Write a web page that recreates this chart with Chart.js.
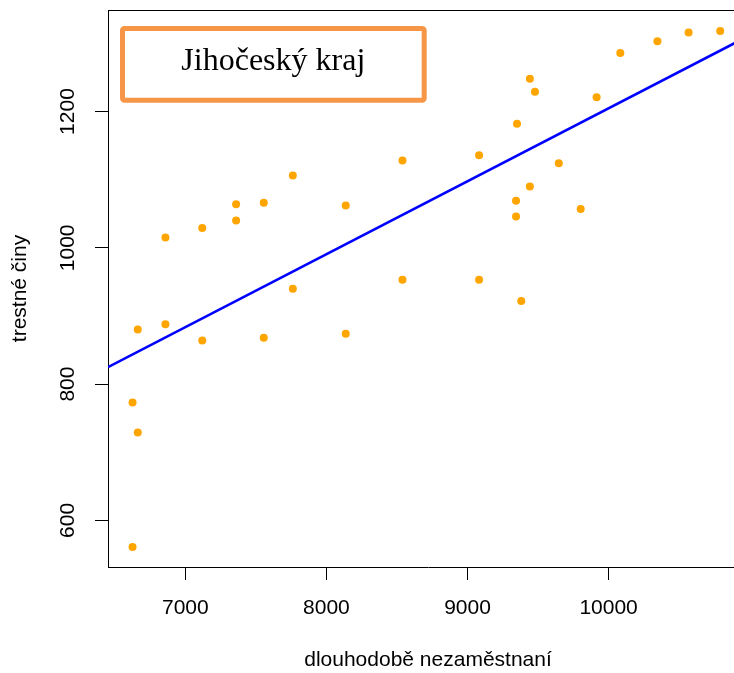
<!DOCTYPE html>
<html>
<head>
<meta charset="utf-8">
<script src="https://cdn.jsdelivr.net/npm/chart.js@4"></script>
<style>
  html, body { margin: 0; padding: 0; background: #fff; overflow: hidden; }
  #wrap { width: 734px; height: 673px; overflow: hidden; }
</style>
</head>
<body>
<div id="wrap"><canvas id="chart" width="752" height="673"></canvas></div>
<script>
// dlouhodobě nezaměstnaní vs trestné činy, Jihočeský kraj
const unemployed = [6626, 6663, 6626, 6663, 6859, 6859, 7120, 7120, 7360, 7360,
  7556, 7556, 7762, 7762, 8137, 8137, 8539, 8539, 9082, 9082,
  9351, 9344, 9344, 9381, 9442, 9478, 9442, 9647, 9802, 9915,
  10083, 10346, 10567, 10791];
const crimes = [773, 729, 561, 880, 1015, 888, 1029, 864, 1064, 1040,
  1066, 868, 1106, 940, 1062, 874, 1128, 953, 1136, 953,
  1182, 1069, 1046, 922, 1248, 1229, 1090, 1124, 1057, 1221,
  1286, 1303, 1316, 1318];

// regression line end points
const lineX = [6452, 10988];
const lineY = [825, 1310.5];

const xTicks = [7000, 8000, 9000, 10000];
const yTicks = [600, 800, 1000, 1200];
const xRange = [6452, 10988];
const yRange = [531.6, 1349];

const boxLabel = 'Jihočeský kraj';

const points = unemployed.map((x, i) => ({ x, y: crimes[i] }));
const regLine = lineX.map((x, i) => ({ x, y: lineY[i] }));

// top border + label box
const extras = {
  id: 'extras',
  afterDraw(chart) {
    const { ctx, chartArea } = chart;
    ctx.save();
    ctx.strokeStyle = '#000';
    ctx.lineWidth = 1;
    ctx.beginPath();
    ctx.moveTo(chartArea.left, chartArea.top + 0.5);
    ctx.lineTo(chartArea.right, chartArea.top + 0.5);
    ctx.stroke();

    const bx = chartArea.left + 14.5, by = chartArea.top + 18.5;
    const bw = 301.7, bh = 71.7;
    ctx.strokeStyle = '#F79646';
    ctx.lineWidth = 5;
    ctx.lineJoin = 'round';
    ctx.beginPath();
    ctx.roundRect(bx, by, bw, bh, 2);
    ctx.stroke();

    ctx.fillStyle = '#000';
    ctx.font = '32px "Liberation Serif", "Times New Roman", serif';
    ctx.textAlign = 'center';
    ctx.textBaseline = 'alphabetic';
    ctx.fillText(boxLabel, bx + bw / 2, chartArea.top + 59.5);
    ctx.restore();
  }
};

const font = { family: '"Liberation Sans", Arial, sans-serif', size: 21 };

new Chart(document.getElementById('chart'), {
  type: 'scatter',
  data: {
    datasets: [
      {
        data: points,
        backgroundColor: '#FFA500',
        borderColor: '#FFA500',
        pointRadius: 4,
        pointBorderWidth: 0
      },
      {
        type: 'line',
        data: regLine,
        borderColor: '#0000FF',
        borderWidth: 2.5,
        pointRadius: 0,
        fill: false
      }
    ]
  },
  options: {
    responsive: false,
    animation: false,
    layout: { padding: { top: 10, right: 2, left: 0, bottom: 0 } },
    plugins: { legend: { display: false }, tooltip: { enabled: false } },
    scales: {
      x: {
        type: 'linear',
        min: xRange[0],
        max: xRange[1],
        afterBuildTicks: s => { s.ticks = xTicks.map(v => ({ value: v })); },
        afterFit: s => { s.height = 106; s.paddingLeft = 0; s.paddingRight = 0; },
        grid: { drawOnChartArea: false, color: '#000', tickLength: 13, tickWidth: 1 },
        border: { display: true, color: '#000', width: 1 },
        ticks: { color: '#000', font, padding: 16, maxRotation: 0, callback: v => String(v) },
        title: { display: true, text: 'dlouhodobě nezaměstnaní', color: '#000', font, padding: { top: 0, bottom: 0 } }
      },
      y: {
        type: 'linear',
        min: yRange[0],
        max: yRange[1],
        afterBuildTicks: s => { s.ticks = yTicks.map(v => ({ value: v })); },
        afterFit: s => { s.width = 108; s.paddingTop = 0; s.paddingBottom = 0; },
        grid: { drawOnChartArea: false, color: '#000', tickLength: 13, tickWidth: 1 },
        border: { display: true, color: '#000', width: 1 },
        ticks: { color: '#000', font, padding: 3, minRotation: 90, maxRotation: 90, crossAlign: 'center', callback: v => String(v) },
        title: { display: true, text: 'trestné činy', color: '#000', font, padding: { top: 7.5, bottom: 0 } }
      }
    }
  },
  plugins: [extras]
});
</script>
</body>
</html>
